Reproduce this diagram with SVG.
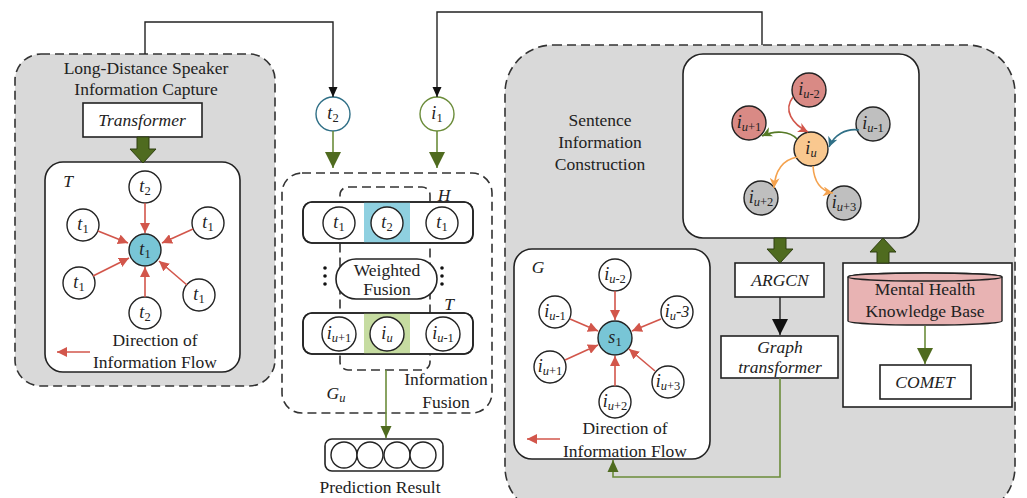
<svg xmlns="http://www.w3.org/2000/svg" width="1027" height="498" viewBox="0 0 1027 498">
<defs>
<style>
.panel{fill:#d9d9d9;stroke:#333;stroke-width:1.6;stroke-dasharray:9,5}
.dash{fill:none;stroke:#333;stroke-width:1.6;stroke-dasharray:9,5}
.wbox{fill:#fff;stroke:#222;stroke-width:1.6}
.nd{fill:#fff;stroke:#222;stroke-width:1.4}
.t{font-family:"Liberation Serif",serif;font-size:17.5px;fill:#222;text-anchor:middle}
.ti{font-family:"Liberation Serif",serif;font-size:17.5px;fill:#222;text-anchor:middle;font-style:italic}
.nl{font-family:"Liberation Serif",serif;font-size:18px;fill:#222;text-anchor:middle}
.it{font-style:italic}
.sb{font-size:12.5px}
.red{fill:none;stroke:#d2564b;stroke-width:1.6}
.blk{fill:none;stroke:#222;stroke-width:1.4}
.olv{fill:none;stroke:#6b8c3a;stroke-width:1.6}
.thick{fill:#4f6b1f;stroke:#2e3f10;stroke-width:1}
</style>
<marker id="mr" markerUnits="userSpaceOnUse" markerWidth="10" markerHeight="10" refX="10" refY="5" orient="auto"><path d="M0,0L10,5L0,10z" fill="#d2564b"/></marker>
<marker id="mk" markerUnits="userSpaceOnUse" markerWidth="10" markerHeight="10" refX="10" refY="5" orient="auto"><path d="M0,0.5L10,5L0,9.5z" fill="#111"/></marker>
<marker id="mg" markerUnits="userSpaceOnUse" markerWidth="12" markerHeight="12" refX="12" refY="6" orient="auto"><path d="M0,0.5L12,6L0,11.5z" fill="#4f6b1f"/></marker>
<marker id="mgs" markerUnits="userSpaceOnUse" markerWidth="16" markerHeight="16" refX="16" refY="8" orient="auto"><path d="M0,0L16,8L0,16z" fill="#4f6b1f"/></marker>
<marker id="mkb" markerUnits="userSpaceOnUse" markerWidth="16" markerHeight="16" refX="16" refY="8" orient="auto"><path d="M0,0L16,8L0,16z" fill="#111"/></marker>
<marker id="cr" markerUnits="userSpaceOnUse" markerWidth="10" markerHeight="10" refX="10" refY="5" orient="auto"><path d="M0,0L10,5L0,10L3,5z" fill="#d2564b"/></marker>
<marker id="ct" markerUnits="userSpaceOnUse" markerWidth="10" markerHeight="10" refX="10" refY="5" orient="auto"><path d="M0,0L10,5L0,10L3,5z" fill="#2f6f86"/></marker>
<marker id="cg" markerUnits="userSpaceOnUse" markerWidth="10" markerHeight="10" refX="10" refY="5" orient="auto"><path d="M0,0L10,5L0,10L3,5z" fill="#567a26"/></marker>
<marker id="co" markerUnits="userSpaceOnUse" markerWidth="10" markerHeight="10" refX="10" refY="5" orient="auto"><path d="M0,0L10,5L0,10L3,5z" fill="#f4a24e"/></marker>
</defs>
<rect width="1027" height="498" fill="#fff"/>

<!-- Left panel -->
<g id="panel-left">
<rect class="panel" x="15" y="54" width="260" height="332" rx="26"/>
<text class="t" x="146" y="74">Long-Distance Speaker</text>
<text class="t" x="146" y="95">Information Capture</text>
</g>
<g id="node-transformer">
<rect class="wbox" x="83" y="103" width="119" height="34"/>
<text class="ti" x="142" y="126">Transformer</text>
</g>
<g id="graph-T">
<rect class="wbox" x="45" y="162" width="195" height="210" rx="18"/>
<text class="ti" x="68" y="187">T</text>
<circle class="nd" cx="145" cy="187" r="16"/>
<text class="nl" x="145" y="192"><tspan class="it">t</tspan><tspan class="sb" dy="3">2</tspan></text>
<circle class="nd" cx="83" cy="225" r="16"/>
<text class="nl" x="83" y="230"><tspan class="it">t</tspan><tspan class="sb" dy="3">1</tspan></text>
<circle class="nd" cx="208" cy="223" r="16"/>
<text class="nl" x="208" y="228"><tspan class="it">t</tspan><tspan class="sb" dy="3">1</tspan></text>
<circle cx="145" cy="250" r="16" fill="#78c5d6" stroke="#222" stroke-width="1.4"/>
<text class="nl" x="145" y="255"><tspan class="it">t</tspan><tspan class="sb" dy="3">1</tspan></text>
<circle class="nd" cx="79" cy="283" r="16"/>
<text class="nl" x="79" y="288"><tspan class="it">t</tspan><tspan class="sb" dy="3">1</tspan></text>
<circle class="nd" cx="199" cy="295" r="16"/>
<text class="nl" x="199" y="300"><tspan class="it">t</tspan><tspan class="sb" dy="3">1</tspan></text>
<circle class="nd" cx="145" cy="313" r="16"/>
<text class="nl" x="145" y="318"><tspan class="it">t</tspan><tspan class="sb" dy="3">2</tspan></text>
<text class="t" x="155" y="346">Direction of</text>
<text class="t" x="155" y="368">Information Flow</text>
</g>

<!-- Middle -->
<g id="node-t2-in">
<circle cx="333" cy="114" r="17" fill="#fff" stroke="#2f6f86" stroke-width="1.4"/>
<text class="nl" x="333" y="119"><tspan class="it">t</tspan><tspan class="sb" dy="3">2</tspan></text>
</g>
<g id="node-i1-in">
<circle cx="437" cy="114" r="17" fill="#fff" stroke="#6b8c3a" stroke-width="1.4"/>
<text class="nl" x="437" y="119"><tspan class="it">i</tspan><tspan class="sb" dy="3">1</tspan></text>
</g>
<g id="fusion">
<rect class="dash" x="282" y="173" width="210" height="240" rx="20"/>
<rect class="dash" x="340" y="187" width="90" height="183" rx="8"/>
<text class="ti" x="444" y="201">H</text>
<rect class="wbox" x="303" y="202" width="170" height="41" rx="9"/>
<rect x="364" y="202" width="46" height="41" fill="#8fd0e0"/>
<rect x="303" y="202" width="170" height="41" rx="9" fill="none" stroke="#222" stroke-width="1.6"/>
<circle class="nd" cx="339" cy="223" r="16"/>
<text class="nl" x="339" y="228"><tspan class="it">t</tspan><tspan class="sb" dy="3">1</tspan></text>
<circle class="nd" cx="387" cy="223" r="16" fill="none"/>
<text class="nl" x="387" y="228"><tspan class="it">t</tspan><tspan class="sb" dy="3">2</tspan></text>
<circle class="nd" cx="442" cy="223" r="16"/>
<text class="nl" x="442" y="228"><tspan class="it">t</tspan><tspan class="sb" dy="3">1</tspan></text>
<rect class="wbox" x="336" y="259" width="101" height="40" rx="20"/>
<text class="t" x="387" y="276">Weighted</text>
<text class="t" x="387" y="295">Fusion</text>
<g fill="#111"><circle cx="325" cy="268" r="1.8"/><circle cx="325" cy="276" r="1.8"/><circle cx="325" cy="284" r="1.8"/>
<circle cx="442" cy="268" r="1.8"/><circle cx="442" cy="276" r="1.8"/><circle cx="442" cy="284" r="1.8"/></g>
<text class="ti" x="449" y="310">T</text>
<rect class="wbox" x="303" y="313" width="170" height="41" rx="9"/>
<rect x="364" y="313" width="46" height="41" fill="#c6dca1"/>
<rect x="303" y="313" width="170" height="41" rx="9" fill="none" stroke="#222" stroke-width="1.6"/>
<circle class="nd" cx="339" cy="334" r="17"/>
<text class="nl" x="339" y="339"><tspan class="it">i</tspan><tspan class="sb it" dy="3">u</tspan><tspan class="sb">+1</tspan></text>
<circle class="nd" cx="387" cy="334" r="17" fill="none"/>
<text class="nl" x="387" y="339"><tspan class="it">i</tspan><tspan class="sb it" dy="3">u</tspan></text>
<circle class="nd" cx="443" cy="334" r="17"/>
<text class="nl" x="443" y="339"><tspan class="it">i</tspan><tspan class="sb it" dy="3">u</tspan><tspan class="sb">-1</tspan></text>
<text class="t" x="446" y="385">Information</text>
<text class="t" x="446" y="408">Fusion</text>
<text class="ti" x="336" y="399">G<tspan class="sb" dy="3">u</tspan></text>
</g>
<g id="node-prediction">
<rect class="wbox" x="325" y="439" width="118" height="32" rx="7"/>
<circle class="nd" cx="344" cy="455" r="13"/>
<circle class="nd" cx="370" cy="455" r="13"/>
<circle class="nd" cx="397" cy="455" r="13"/>
<circle class="nd" cx="423" cy="455" r="13"/>
<text class="t" x="380" y="493">Prediction Result</text>
</g>

<!-- Right panel -->
<g id="panel-right">
<rect class="panel" x="505" y="45" width="510" height="470" rx="48"/>
<text class="t" x="600" y="126">Sentence</text>
<text class="t" x="600" y="148">Information</text>
<text class="t" x="600" y="170">Construction</text>
</g>
<g id="graph-top">
<rect class="wbox" x="683" y="54" width="236" height="184" rx="20"/>
<circle cx="809" cy="90" r="17" fill="#d98a85" stroke="#222" stroke-width="1.4"/>
<text class="nl" x="809" y="95"><tspan class="it">i</tspan><tspan class="sb it" dy="3">u</tspan><tspan class="sb">-2</tspan></text>
<circle cx="749" cy="123" r="17" fill="#d98a85" stroke="#222" stroke-width="1.4"/>
<text class="nl" x="749" y="128"><tspan class="it">i</tspan><tspan class="sb it" dy="3">u</tspan><tspan class="sb">+1</tspan></text>
<circle cx="873" cy="124" r="17" fill="#bfbfbf" stroke="#222" stroke-width="1.4"/>
<text class="nl" x="873" y="129"><tspan class="it">i</tspan><tspan class="sb it" dy="3">u</tspan><tspan class="sb">-1</tspan></text>
<circle cx="811" cy="149" r="17" fill="#f9c88f" stroke="#222" stroke-width="1.4"/>
<text class="nl" x="811" y="154"><tspan class="it">i</tspan><tspan class="sb it" dy="3">u</tspan></text>
<circle cx="761" cy="198" r="17" fill="#bfbfbf" stroke="#222" stroke-width="1.4"/>
<text class="nl" x="761" y="203"><tspan class="it">i</tspan><tspan class="sb it" dy="3">u</tspan><tspan class="sb">+2</tspan></text>
<circle cx="844" cy="203" r="17" fill="#bfbfbf" stroke="#222" stroke-width="1.4"/>
<text class="nl" x="844" y="208"><tspan class="it">i</tspan><tspan class="sb it" dy="3">u</tspan><tspan class="sb">+3</tspan></text>
</g>
<g id="node-argcn">
<rect class="wbox" x="735" y="263" width="89" height="34"/>
<text class="ti" x="780" y="286">ARGCN</text>
</g>
<g id="node-graph-transformer">
<rect class="wbox" x="721" y="336" width="117" height="42"/>
<text class="ti" x="780" y="353">Graph</text>
<text class="ti" x="780" y="373">transformer</text>
</g>
<g id="node-knowledge">
<rect class="wbox" x="843" y="263" width="169" height="144"/>
<path d="M848,277 L848,321 A77,4 0 0 0 1002,321 L1002,277 A77,4 0 0 0 848,277z" fill="#e8b3b3" stroke="#222" stroke-width="1.4"/>
<ellipse cx="925" cy="277" rx="77" ry="4" fill="#e8b3b3" stroke="#222" stroke-width="1.4"/>
<text class="t" x="925" y="295">Mental Health</text>
<text class="t" x="925" y="317">Knowledge Base</text>
</g>
<g id="node-comet">
<rect class="wbox" x="880" y="365" width="91" height="34"/>
<text class="ti" x="925" y="388">COMET</text>
</g>
<g id="graph-G">
<rect class="wbox" x="514" y="249" width="196" height="210" rx="18"/>
<text class="ti" x="538" y="273">G</text>
<circle cx="615" cy="338" r="17" fill="#78c5d6" stroke="#222" stroke-width="1.4"/>
<text class="nl" x="615" y="343"><tspan class="it">s</tspan><tspan class="sb" dy="3">1</tspan></text>
<circle class="nd" cx="615" cy="275" r="16"/>
<text class="nl" x="615" y="280"><tspan class="it">i</tspan><tspan class="sb it" dy="3">u</tspan><tspan class="sb">-2</tspan></text>
<circle class="nd" cx="555" cy="312" r="16"/>
<text class="nl" x="555" y="317"><tspan class="it">i</tspan><tspan class="sb it" dy="3">u</tspan><tspan class="sb">-1</tspan></text>
<circle class="nd" cx="677" cy="312" r="16"/>
<text class="nl" x="677" y="317"><tspan class="it">i</tspan><tspan class="sb it" dy="3">u</tspan><tspan dy="-3" font-style="italic" font-size="16px">-3</tspan></text>
<circle class="nd" cx="550" cy="367" r="16"/>
<text class="nl" x="550" y="372"><tspan class="it">i</tspan><tspan class="sb it" dy="3">u</tspan><tspan class="sb">+1</tspan></text>
<circle class="nd" cx="668" cy="382" r="16"/>
<text class="nl" x="668" y="387"><tspan class="it">i</tspan><tspan class="sb it" dy="3">u</tspan><tspan class="sb">+3</tspan></text>
<circle class="nd" cx="615" cy="402" r="16"/>
<text class="nl" x="615" y="407"><tspan class="it">i</tspan><tspan class="sb it" dy="3">u</tspan><tspan class="sb">+2</tspan></text>
<text class="t" x="625" y="434">Direction of</text>
<text class="t" x="625" y="457">Information Flow</text>
</g>

<!-- Connectors -->
<g id="connectors">
<path class="blk" d="M145,54 V22 H333 V97" marker-end="url(#mk)"/>
<path class="blk" d="M762,45 V12 H437 V97" marker-end="url(#mk)"/>
<path class="olv" d="M333,131 V168" marker-end="url(#mgs)"/>
<path class="olv" d="M437,131 V168" marker-end="url(#mgs)"/>
<path class="olv" d="M386,370 V438" marker-end="url(#mg)"/>
<path class="olv" d="M780,378 V477 H613 V460" marker-end="url(#mg)"/>
<path class="olv" d="M925,326 V364" marker-end="url(#mgs)"/>
<path class="blk" d="M780,297 V335" marker-end="url(#mkb)"/>
<path class="thick" d="M137,137 H149 V149 H156 L143,163 L130,149 H137z"/>
<path class="thick" d="M774,238 H786 V249 H793 L780,263 L767,249 H774z"/>
<path class="thick" d="M877,263 H889 V252 H896 L883,238 L870,252 H877z"/>
<!-- T graph -->
<line class="red" x1="145" y1="203" x2="145" y2="233" marker-end="url(#mr)"/>
<line class="red" x1="98" y1="231" x2="128" y2="243" marker-end="url(#mr)"/>
<line class="red" x1="193" y1="229" x2="162" y2="243" marker-end="url(#mr)"/>
<line class="red" x1="93" y1="276" x2="129" y2="258" marker-end="url(#mr)"/>
<line class="red" x1="187" y1="285" x2="159" y2="261" marker-end="url(#mr)"/>
<line class="red" x1="145" y1="297" x2="145" y2="267" marker-end="url(#mr)"/>
<line class="red" x1="90" y1="352" x2="57" y2="352" marker-end="url(#mr)"/>
<!-- G graph -->
<line class="red" x1="615" y1="291" x2="615" y2="320" marker-end="url(#mr)"/>
<line class="red" x1="570" y1="319" x2="598" y2="331" marker-end="url(#mr)"/>
<line class="red" x1="661" y1="319" x2="632" y2="331" marker-end="url(#mr)"/>
<line class="red" x1="565" y1="360" x2="598" y2="345" marker-end="url(#mr)"/>
<line class="red" x1="655" y1="371" x2="629" y2="349" marker-end="url(#mr)"/>
<line class="red" x1="615" y1="386" x2="615" y2="356" marker-end="url(#mr)"/>
<line class="red" x1="560" y1="439" x2="527" y2="439" marker-end="url(#mr)"/>
<!-- top graph curves -->
<path d="M793,97 C783,110 792,124 808,132" fill="none" stroke="#d2564b" stroke-width="1.6" marker-end="url(#cr)"/>
<path d="M859,130 C846,128 834,135 829,147" fill="none" stroke="#2f6f86" stroke-width="1.6" marker-end="url(#ct)"/>
<path d="M797,139 C790,131 775,130 762,136" fill="none" stroke="#567a26" stroke-width="1.6" marker-end="url(#cg)"/>
<path d="M797,157 C782,160 775,172 774,188" fill="none" stroke="#f4a24e" stroke-width="1.6" marker-end="url(#co)"/>
<path d="M813,166 C814,182 821,191 833,193" fill="none" stroke="#f4a24e" stroke-width="1.6" marker-end="url(#co)"/>
</g>
</svg>
